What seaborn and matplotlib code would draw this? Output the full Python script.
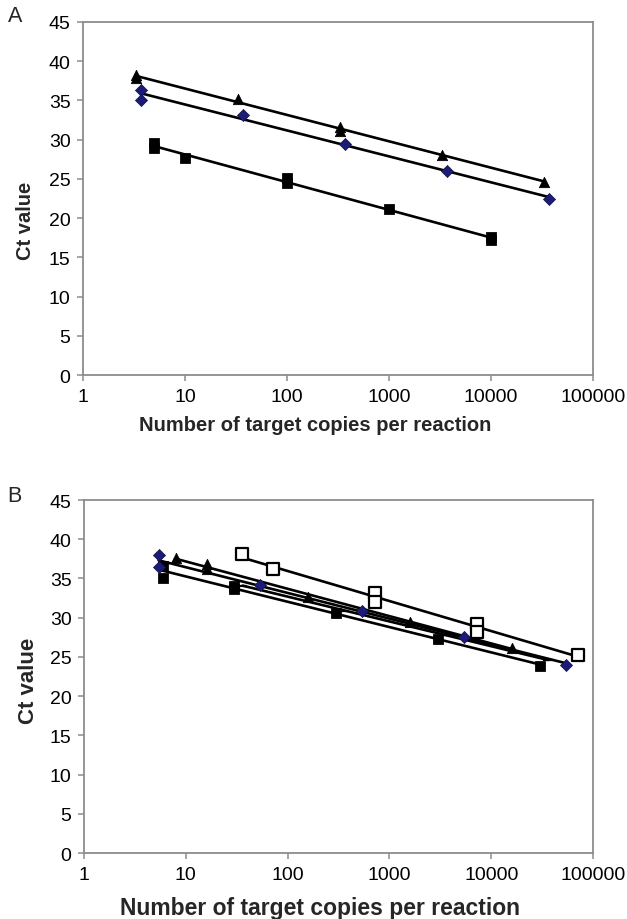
"""
qPCR standard curves, panels A and B
Ct value vs number of target copies (semi-log) with linear trendlines
"""

import numpy as np
import pandas as pd
import matplotlib
matplotlib.use("Agg")
import matplotlib.pyplot as plt
import matplotlib.ticker as mticker
import seaborn as sns

# ---- panel A data ----
a_tri_x = [3.3, 3.3, 33, 330, 330, 3300, 33000]
a_tri_y = [38.2, 37.8, 35.2, 31.6, 31.1, 28.1, 24.6]
a_dia_x = [3.7, 3.7, 37, 370, 3700, 37000]
a_dia_y = [36.35, 35.0, 33.1, 29.5, 26.0, 22.45]
a_sq_x = [5, 5, 10, 100, 100, 1000, 10000, 10000]
a_sq_y = [29.6, 28.9, 27.6, 25.1, 24.5, 21.2, 17.6, 17.2]

# ---- panel B data ----
b_dia_x = [5.4, 5.4, 54, 540, 5400, 54000]
b_dia_y = [38.0, 36.4, 34.2, 30.9, 27.6, 24.0]
b_tri_x = [8, 16, 16, 160, 1600, 16000]
b_tri_y = [37.6, 36.9, 36.2, 32.6, 29.4, 26.2]
b_sq_x = [6, 6, 30, 30, 300, 3000, 30000]
b_sq_y = [36.6, 35.0, 34.1, 33.7, 30.6, 27.3, 23.9]
b_open_x = [36, 72, 720, 720, 7200, 7200, 72000]
b_open_y = [38.1, 36.2, 33.2, 32.0, 29.2, 28.2, 25.3]
b_dash_x = [36, 360, 3600, 36000]
b_dash_y = [34.1, 30.9, 27.8, 24.6]

x_ticks = [1, 10, 100, 1000, 10000, 100000]
y_ticks = list(range(0, 50, 5))

sns.set_style("white")
plt.rcParams['font.family'] = ['Liberation Sans', 'DejaVu Sans']

GRAY = '#8c8c8c'
NAVY = '#1c1c78'

STYLES = {
    'tri': dict(marker='^', color='black', edgecolor='black', s=55),
    'dia': dict(marker='D', color=NAVY, edgecolor='#101040', s=38),
    'sq': dict(marker='s', color='black', edgecolor='black', s=50),
    'open': dict(marker='s', color='white', edgecolor='black', s=80, linewidth=1.6),
    'dash': dict(marker='_', color='black', s=45, linewidth=1.6),
}


def add_series(ax, xs, ys, style):
    df = pd.DataFrame({'copies': xs, 'ct': ys})
    # trendline: Ct linear in log10(copies)
    slope, icpt = np.polyfit(np.log10(df['copies']), df['ct'], 1)
    fit = pd.DataFrame({'copies': [df['copies'].min(), df['copies'].max()]})
    fit['ct'] = slope * np.log10(fit['copies']) + icpt
    sns.lineplot(data=fit, x='copies', y='ct', ax=ax, color='black',
                 linewidth=1.9, zorder=2)
    sns.scatterplot(data=df, x='copies', y='ct', ax=ax, zorder=3,
                    **STYLES[style])


def style_axes(ax, letter, lx, ly, xl_size, xl_pos, yl_size, yl_pos):
    ax.set_xscale('log')
    ax.set_xlim(1, 100000)
    ax.set_ylim(0, 45)
    ax.xaxis.set_major_locator(mticker.FixedLocator(x_ticks))
    ax.xaxis.set_major_formatter(mticker.FuncFormatter(lambda v, p: f"{int(round(v))}"))
    ax.xaxis.set_minor_locator(mticker.NullLocator())
    ax.set_yticks(y_ticks)
    for sp in ax.spines.values():
        sp.set_color(GRAY)
        sp.set_linewidth(1.3)
    ax.tick_params(axis='both', which='major', direction='out', length=4,
                   width=1.1, color=GRAY, labelsize=14, pad=5,
                   labelcolor='black', bottom=True, left=True)
    ax.set_xlabel('Number of target copies per reaction', fontsize=xl_size,
                  fontweight='bold')
    ax.set_ylabel('Ct value', fontsize=yl_size, fontweight='bold')
    ax.xaxis.set_label_coords(*xl_pos)
    ax.yaxis.set_label_coords(*yl_pos)
    ax.figure.text(lx, ly, letter, fontsize=15.5, ha='left', va='center')


fig = plt.figure(figsize=(6.27, 9.2), dpi=100)
ax_a = fig.add_axes([0.1324, 0.5913, 0.8134, 0.3837])
ax_b = fig.add_axes([0.1340, 0.0717, 0.8118, 0.3837])

add_series(ax_a, a_sq_x, a_sq_y, 'sq')
add_series(ax_a, a_dia_x, a_dia_y, 'dia')
add_series(ax_a, a_tri_x, a_tri_y, 'tri')
style_axes(ax_a, 'A', 0.012, 1 - 17 / 920,
           14.5, (0.455, -0.113), 14.5, (-0.094, 0.44))

add_series(ax_b, b_open_x, b_open_y, 'open')
add_series(ax_b, b_dash_x, b_dash_y, 'dash')
add_series(ax_b, b_sq_x, b_sq_y, 'sq')
add_series(ax_b, b_tri_x, b_tri_y, 'tri')
add_series(ax_b, b_dia_x, b_dia_y, 'dia')
style_axes(ax_b, 'B', 0.012, 1 - 497 / 920,
           16.5, (0.464, -0.122), 16, (-0.088, 0.49))

fig.savefig('out.png', dpi=100, facecolor='white')
